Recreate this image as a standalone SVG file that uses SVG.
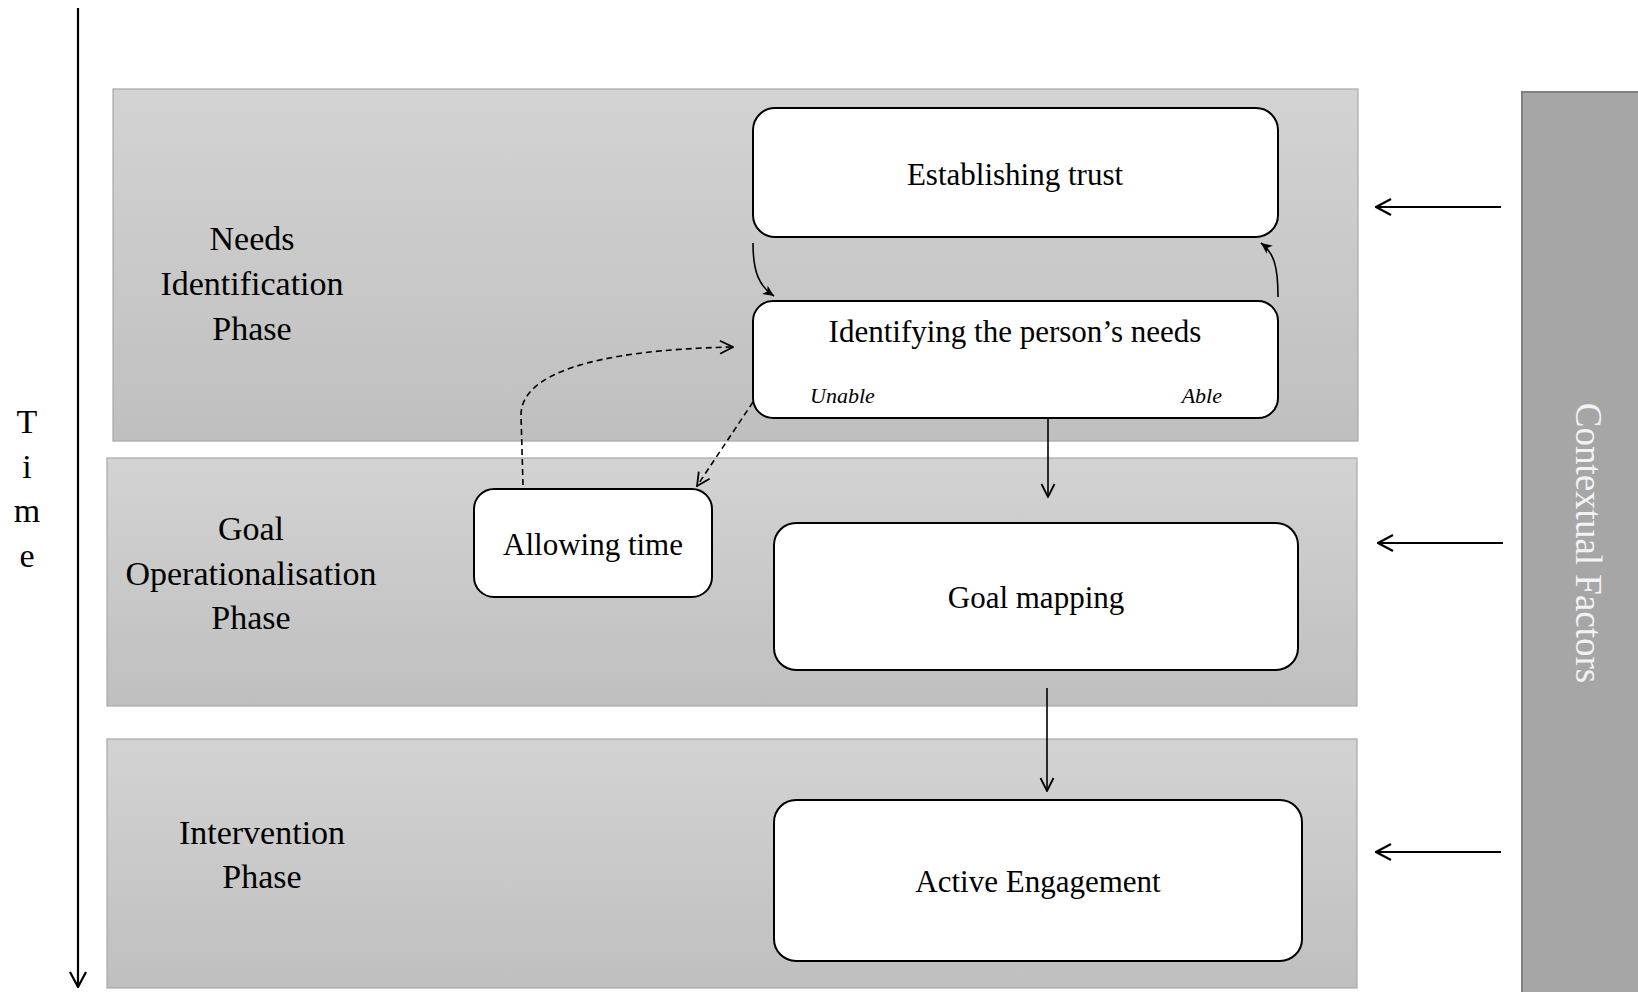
<svg xmlns="http://www.w3.org/2000/svg" width="1638" height="992" viewBox="0 0 1638 992">
  <style>
    .panel { stroke: #a8a8a8; stroke-width: 1.2; }
    .box { fill: #ffffff; stroke: #000000; stroke-width: 2; }
    .label { font-family: "Liberation Serif", "Times New Roman", serif; fill: #000000; text-anchor: middle; }
    .phase { font-size: 34px; }
    .node { font-size: 31px; }
    .small { font-size: 22px; font-style: italic; }
    .line { fill: none; stroke: #000000; stroke-width: 1.6; }
    .thick { fill: none; stroke: #000000; stroke-width: 2.2; }
    .dash { fill: none; stroke: #000000; stroke-width: 1.6; stroke-dasharray: 6 4; }
  </style>
  <defs>
    <linearGradient id="panelFill" x1="0" y1="0" x2="0" y2="1">
      <stop offset="0" stop-color="#d3d3d3"/>
      <stop offset="1" stop-color="#bfbfbf"/>
    </linearGradient>
    <marker id="openHead" viewBox="0 0 16 16" refX="15" refY="8" markerWidth="16" markerHeight="16" markerUnits="userSpaceOnUse" orient="auto">
      <path d="M2,1.5 L15,8 L2,14.5" fill="none" stroke="#000000" stroke-width="1.8"/>
    </marker>
    <marker id="bigHead" viewBox="0 0 18 18" refX="17" refY="9" markerWidth="18" markerHeight="18" markerUnits="userSpaceOnUse" orient="auto">
      <path d="M2,1 L17,9 L2,17" fill="none" stroke="#000000" stroke-width="2.2"/>
    </marker>
    <marker id="solidHead" viewBox="0 0 12 12" refX="11" refY="6" markerWidth="12" markerHeight="12" markerUnits="userSpaceOnUse" orient="auto">
      <path d="M0,1 L11,6 L0,11 L3,6 Z" fill="#000000"/>
    </marker>
  </defs>

  <rect width="1638" height="992" fill="#ffffff"/>

  <!-- phase bands -->
  <g id="needs-phase">
    <rect class="panel" x="113" y="89" width="1245" height="352" fill="url(#panelFill)"/>
    <text class="label phase" x="252" y="250">Needs</text>
    <text class="label phase" x="252" y="295">Identification</text>
    <text class="label phase" x="252" y="340">Phase</text>
  </g>
  <g id="goal-phase">
    <rect class="panel" x="107" y="458" width="1250" height="248" fill="url(#panelFill)"/>
    <text class="label phase" x="251" y="540">Goal</text>
    <text class="label phase" x="251" y="585">Operationalisation</text>
    <text class="label phase" x="251" y="629">Phase</text>
  </g>
  <g id="intervention-phase">
    <rect class="panel" x="107" y="739" width="1250" height="249" fill="url(#panelFill)"/>
    <text class="label phase" x="262" y="844">Intervention</text>
    <text class="label phase" x="262" y="888">Phase</text>
  </g>

  <!-- contextual factors column -->
  <g id="contextual-factors">
    <rect x="1522" y="92" width="130" height="910" fill="#a6a6a6" stroke="#808080" stroke-width="2"/>
    <text transform="translate(1576,543) rotate(90)" font-family="Liberation Serif, Times New Roman, serif" font-size="37" fill="#f2f2f2" text-anchor="middle">Contextual Factors</text>
  </g>

  <!-- time axis -->
  <g id="time-axis">
    <text class="label phase" x="27" y="433">T</text>
    <text class="label phase" x="27" y="478">i</text>
    <text class="label phase" x="27" y="522">m</text>
    <text class="label phase" x="27" y="567">e</text>
  </g>

  <!-- process nodes -->
  <g id="establishing-trust">
    <rect class="box" x="753" y="108" width="525" height="129" rx="22" ry="22"/>
    <text class="label node" x="1015" y="185">Establishing trust</text>
  </g>
  <g id="identifying-needs">
    <rect class="box" x="753" y="301" width="525" height="117" rx="20" ry="20"/>
    <text class="label node" x="1015" y="342">Identifying the person’s needs</text>
    <text class="label small" x="810" y="403" text-anchor="start" style="text-anchor:start">Unable</text>
    <text class="label small" x="1222" y="403" style="text-anchor:end">Able</text>
  </g>
  <g id="allowing-time">
    <rect class="box" x="474" y="489" width="238" height="108" rx="20" ry="20"/>
    <text class="label node" x="593" y="555">Allowing time</text>
  </g>
  <g id="goal-mapping">
    <rect class="box" x="774" y="523" width="524" height="147" rx="22" ry="22"/>
    <text class="label node" x="1036" y="608">Goal mapping</text>
  </g>
  <g id="active-engagement">
    <rect class="box" x="774" y="800" width="528" height="161" rx="22" ry="22"/>
    <text class="label node" x="1038" y="892">Active Engagement</text>
  </g>

  <!-- connectors -->
  <g id="connectors">
    <path class="thick" d="M78,8 L78,987" marker-end="url(#bigHead)"/>
    <path class="thick" d="M1501,207 L1376,207" marker-end="url(#bigHead)"/>
    <path class="thick" d="M1503,543 L1378,543" marker-end="url(#bigHead)"/>
    <path class="thick" d="M1501,852 L1376,852" marker-end="url(#bigHead)"/>
    <path class="line" d="M753,243 C753,272 759,286 774,296" marker-end="url(#solidHead)"/>
    <path class="line" d="M1278,297 C1278,266 1274,253 1261,243" marker-end="url(#solidHead)"/>
    <path class="line" d="M1048,418 L1048,497" marker-end="url(#openHead)"/>
    <path class="line" d="M1047,688 L1047,791" marker-end="url(#openHead)"/>
    <path class="dash" d="M523,485 L521,415 C521,375 590,350 733,347" marker-end="url(#openHead)"/>
    <path class="dash" d="M753,402 L697,486" marker-end="url(#openHead)"/>
  </g>
</svg>
